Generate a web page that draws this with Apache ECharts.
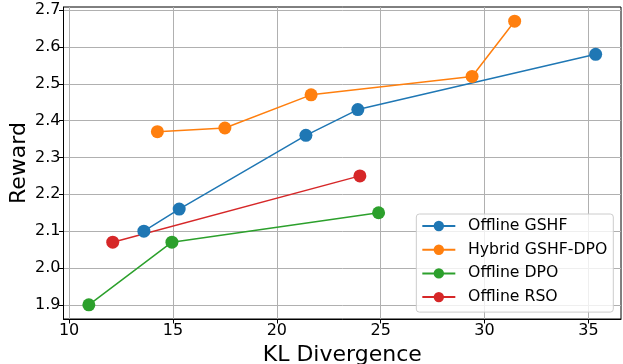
<!DOCTYPE html>
<html><head><meta charset="utf-8">
<script src="https://cdn.jsdelivr.net/npm/echarts@6/dist/echarts.min.js"></script>
<style>html,body{margin:0;padding:0;background:#fff}#c{width:623px;height:364px}</style>
</head><body><div id="c"></div>
<script>
const seriesNames = ['Offline GSHF', 'Hybrid GSHF-DPO', 'Offline DPO', 'Offline RSO'];
const gshfX = [13.6, 15.3, 21.4, 23.9, 35.35];
const gshfY = [2.10, 2.16, 2.36, 2.43, 2.58];
const hybridX = [14.25, 17.5, 21.65, 29.4, 31.45];
const hybridY = [2.37, 2.38, 2.47, 2.52, 2.67];
const dpoX = [10.95, 14.95, 24.9];
const dpoY = [1.90, 2.07, 2.15];
const rsoX = [12.1, 24.0];
const rsoY = [2.07, 2.25];
const xTicks = [10, 15, 20, 25, 30, 35];
const yTicks = [1.9, 2.0, 2.1, 2.2, 2.3, 2.4, 2.5, 2.6, 2.7];
const colors = ['#1f77b4', '#ff7f0e', '#2ca02c', '#d62728'];

const zip = (xs, ys) => xs.map((x, i) => [x, ys[i]]);
const allX = [...gshfX, ...hybridX, ...dpoX, ...rsoX];
const allY = [...gshfY, ...hybridY, ...dpoY, ...rsoY];
const xr = Math.max(...allX) - Math.min(...allX);
const yr = Math.max(...allY) - Math.min(...allY);
const xMin = Math.min(...allX) - 0.05 * xr, xMax = Math.max(...allX) + 0.05 * xr;
const yMin = Math.min(...allY) - 0.05 * yr, yMax = Math.max(...allY) + 0.05 * yr;

const font = 'DejaVu Sans';
const chart = echarts.init(document.getElementById('c'), null, {renderer: 'canvas'});
const mk = (name, xs, ys, c) => ({
  name, type: 'line', data: zip(xs, ys), symbol: 'circle', symbolSize: 13,
  lineStyle: {color: c, width: 1.5}, itemStyle: {color: c}, animation: false, z: 3
});
chart.setOption({
  animation: false,
  textStyle: {fontFamily: font},
  grid: {left: 63.5, right: 2, top: 7, bottom: 45, outerBoundsMode: 'none', containLabel: false,
    show: true, borderColor: '#000', borderWidth: 1},
  xAxis: {
    type: 'value', min: xMin, max: xMax,
    name: 'KL Divergence', nameLocation: 'middle', nameGap: 25, nameMoveOverlap: false,
    nameTextStyle: {fontSize: 22, color: '#000', fontFamily: font},
    axisLine: {show: true, onZero: false, lineStyle: {color: '#000'}},
    axisTick: {show: true, length: 4.5, customValues: xTicks, lineStyle: {color: '#000'}},
    axisLabel: {customValues: xTicks, fontSize: 16, color: '#000', margin: 4, fontFamily: font},
    splitLine: {show: true, lineStyle: {color: '#b0b0b0', width: 1}}
  },
  yAxis: {
    type: 'value', min: yMin, max: yMax,
    name: 'Reward', nameLocation: 'middle', nameGap: 33, nameMoveOverlap: false,
    nameTextStyle: {fontSize: 22, color: '#000', fontFamily: font},
    axisLine: {show: true, onZero: false, lineStyle: {color: '#000'}},
    axisTick: {show: true, length: 4.5, customValues: yTicks, lineStyle: {color: '#000'}},
    axisLabel: {customValues: yTicks, fontSize: 16, color: '#000', margin: 3, fontFamily: font,
      formatter: v => v.toFixed(1)},
    splitLine: {show: true, lineStyle: {color: '#b0b0b0', width: 1}}
  },
  legend: {
    data: seriesNames, orient: 'vertical', right: 9.7, top: 214,
    backgroundColor: 'rgba(255,255,255,0.8)', borderColor: '#ccc', borderWidth: 1, borderRadius: 3,
    padding: [3, 6, 6, 5], itemWidth: 33, itemHeight: 13, itemGap: 5.7,
    textStyle: {fontSize: 15.7, lineHeight: 18, color: '#000', fontFamily: font, padding: [0, 0, 0, 7.7]}
  },
  series: [
    mk(seriesNames[0], gshfX, gshfY, colors[0]),
    mk(seriesNames[1], hybridX, hybridY, colors[1]),
    mk(seriesNames[2], dpoX, dpoY, colors[2]),
    mk(seriesNames[3], rsoX, rsoY, colors[3])
  ]
});
</script></body></html>
